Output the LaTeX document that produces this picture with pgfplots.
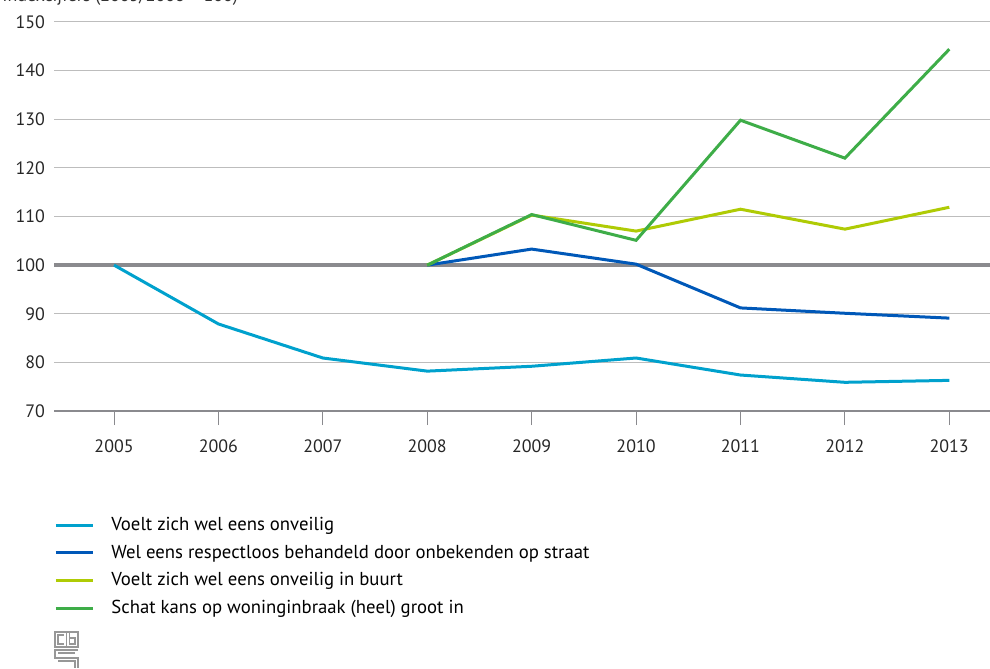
\documentclass[border=0pt]{standalone}
\usepackage{fontspec}
\setmainfont{PT Sans}
\usepackage{pgfplots}
\pgfplotsset{compat=1.18}

\definecolor{cbslblue}{HTML}{00A1CD}
\definecolor{cbsdblue}{HTML}{0058B8}
\definecolor{cbslgreen}{HTML}{AFCB05}
\definecolor{cbsgreen}{HTML}{3EAD48}
\definecolor{gridgrey}{HTML}{BDBDBD}
\definecolor{axisgrey}{HTML}{8A8A8E}

\begin{document}
\begin{tikzpicture}[x=1bp,y=1bp]
\path[use as bounding box] (0,0) rectangle (495,334);

% title, cut off at the top as in the original
\node[overlay,anchor=base west,inner sep=0pt,font=\fontsize{9}{11}\selectfont,text=black!80] at (1,333.2) {Indexcijfers (2005/2008 = 100)};

\begin{axis}[
  at={(27bp,128.5bp)}, anchor=south west,
  width=468bp, height=194.5bp, scale only axis,
  xmin=2004.425, xmax=2013.39,
  ymin=70, ymax=150,
  xtick={2005,...,2013},
  ytick={70,80,...,150},
  tick pos=left,
  axis line style={draw=none},
  ymajorgrids, grid style={gridgrey,line width=0.5bp},
  xtick align=outside, major tick length=7bp,
  xtick style={axisgrey,line width=0.5bp},
  ytick style={draw=none},
  tick label style={font=\fontsize{9}{11}\selectfont,text=black!85},
  /pgf/number format/assume math mode=true,
  /pgf/number format/1000 sep={},
  xticklabel style={yshift=-4bp},
  yticklabel style={xshift=-1bp},
  legend style={draw=none, at={(0,-0.262)}, anchor=north west,
    font=\fontsize{9.4}{11}\selectfont, row sep=1.7bp, inner sep=0pt,
    legend cell align=left, cells={anchor=west}},
  legend image code/.code={\draw[#1,line width=1.5bp] (0bp,0bp) -- (18.5bp,0bp); \path (25bp,0bp);},
]
\draw[axisgrey,line width=2bp] (axis cs:2004.425,100) -- (axis cs:2013.39,100);
\draw[axisgrey,line width=1.5bp] (axis cs:2004.425,70) -- (axis cs:2013.39,70);

\addplot[cbslblue,line width=1.5bp] coordinates {
(2005,100) (2006,87.9) (2007,80.9) (2008,78.2) (2009,79.2)
(2010,80.9) (2011,77.4) (2012,75.9) (2013,76.3)};
\addlegendentry{Voelt zich wel eens onveilig}

\addplot[cbsdblue,line width=1.5bp] coordinates {
(2008,100) (2009,103.3) (2010,100.2) (2011,91.2) (2012,90.1) (2013,89.1)};
\addlegendentry{Wel eens respectloos behandeld door onbekenden op straat}

\addplot[cbslgreen,line width=1.5bp] coordinates {
(2008,100) (2009,110.3) (2010,107.0) (2011,111.5) (2012,107.4) (2013,111.9)};
\addlegendentry{Voelt zich wel eens onveilig in buurt}

\addplot[cbsgreen,line width=1.5bp] coordinates {
(2008,100) (2009,110.4) (2010,105.1) (2011,129.8) (2012,122.0) (2013,144.4)};
\addlegendentry{Schat kans op woninginbraak (heel) groot in}
\end{axis}

% CBS logo
\begin{scope}[draw=gridgrey!80!black,line width=0.6bp]
\draw (27.5,10.5) rectangle (39,18);
\draw (33.2,10.5) -- (33.2,18);
\draw (32,12) -- (29,12) -- (29,16.5) -- (32,16.5);
\draw (34.7,18) -- (34.7,12) -- (37.5,12) -- (37.5,15) -- (34.7,15);
\draw (39,9) -- (27.5,9) -- (27.5,5) -- (39,5) -- (39,0);
\draw (37.5,7.5) -- (29,7.5);
\draw (29,3.5) -- (37.5,3.5) -- (37.5,0);
\end{scope}
\end{tikzpicture}
\end{document}
